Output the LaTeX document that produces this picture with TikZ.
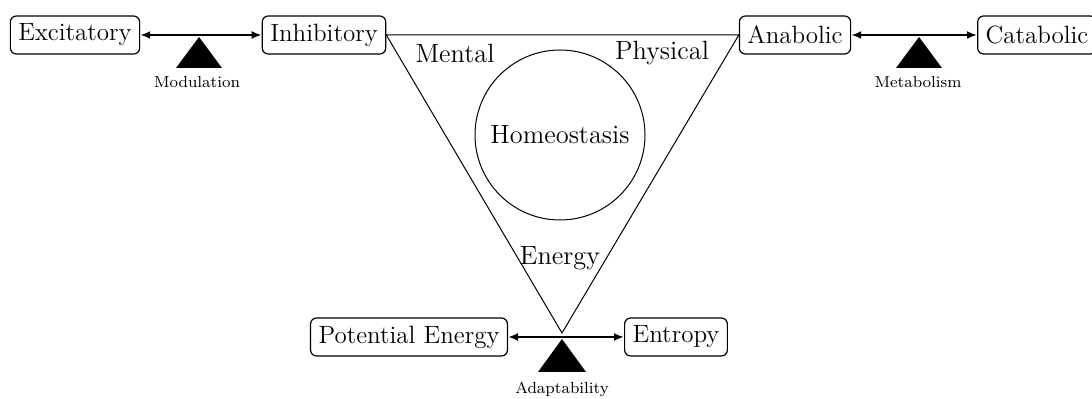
\documentclass[tikz,border=0pt]{standalone}
\usepackage{tikz}
\usetikzlibrary{arrows.meta}

\tikzset{
    term/.style={draw, rounded corners=3pt, line width=0.6pt, inner xsep=4pt, minimum height=19pt, font=\fontsize{12.5}{15}\selectfont},
    balance/.style={{Latex[length=5pt,width=4pt]}-{Latex[length=5pt,width=4pt]}, line width=1.1pt},
    caption/.style={font=\footnotesize},
    word/.style={font=\fontsize{13.2}{16}\selectfont}
}

\begin{document}
\begin{tikzpicture}[x=0.5pt, y=-0.5pt]
    \useasboundingbox (0,0) rectangle (1092,399);

    % Modulation balance (top left)
    \node[term] (exc) at (75,35) {Excitatory};
    \node[term] (inh) at (324,35) {Inhibitory};
    \draw[balance] (exc) -- (inh);
    \coordinate (modtip) at (199,37);
    \fill (modtip) -- ++(-23,31) -- ++(46,0) -- cycle;
    \node[caption] (mod) at (197,82) {Modulation};

    % Metabolism balance (top right)
    \node[term] (ana) at (795,35) {Anabolic};
    \node[term] (cat) at (1037,35) {Catabolic};
    \draw[balance] (ana) -- (cat);
    \coordinate (mettip) at (919,37);
    \fill (mettip) -- ++(-23,31) -- ++(46,0) -- cycle;
    \node[caption] (met) at (918,82) {Metabolism};

    % Adaptability balance (bottom)
    \node[term] (pot) at (409,337) {Potential Energy};
    \node[term] (ent) at (676,337) {Entropy};
    \draw[balance] (pot) -- (ent);
    \coordinate (adatip) at (562,339);
    \fill (adatip) -- ++(-24,33) -- ++(48,0) -- cycle;
    \node[caption] (ada) at (562,389) {Adaptability};

    % Triangle with homeostasis in the middle
    \coordinate (bottom) at (562,333);
    \draw[line width=0.5pt] (inh.east) -- (ana.west) -- (bottom) -- cycle;
    \node[draw, circle, line width=0.5pt, minimum size=85pt, word] (homeo) at (560,135) {Homeostasis};
    \node[word] (mental) at (455,53) {Mental};
    \node[word] (phys) at (662,53) {Physical};
    \node[word] (energy) at (560,258) {Energy};
\end{tikzpicture}
\end{document}
